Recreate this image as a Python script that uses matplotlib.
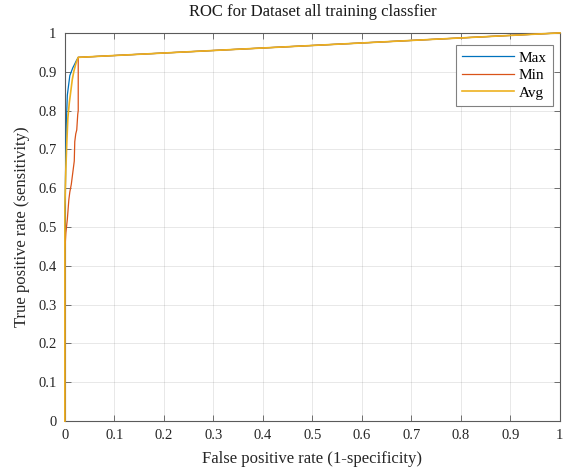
import matplotlib
matplotlib.use("Agg")
import matplotlib.pyplot as plt
import numpy as np

plt.rcParams['font.family'] = ['Liberation Serif', 'DejaVu Serif']

# ROC curves (FPR, TPR)
max_fpr = [0.0, 0.0, 0.0, 0.001, 0.002, 0.003, 0.005, 0.008, 0.010, 0.013, 0.016, 0.020, 0.023, 0.027, 1.0]
max_tpr = [0.0, 0.45, 0.52, 0.60, 0.70, 0.77, 0.84, 0.87, 0.89, 0.90, 0.91, 0.92, 0.928, 0.937, 1.0]

min_fpr = [0.0, 0.0, 0.002, 0.005, 0.008, 0.010, 0.013, 0.016, 0.019, 0.020, 0.022, 0.024, 0.026, 0.027, 0.027, 1.0]
min_tpr = [0.0, 0.44, 0.485, 0.52, 0.57, 0.59, 0.61, 0.64, 0.67, 0.72, 0.74, 0.75, 0.79, 0.80, 0.937, 1.0]

avg_fpr = [0.0, 0.0, 0.0, 0.002, 0.004, 0.006, 0.009, 0.012, 0.015, 0.018, 0.022, 0.025, 0.027, 1.0]
avg_tpr = [0.0, 0.47, 0.55, 0.65, 0.72, 0.78, 0.82, 0.85, 0.88, 0.90, 0.92, 0.93, 0.937, 1.0]

series_names = ['Max', 'Min', 'Avg']
series_colors = ['#0072BD', '#D95319', '#EDB120']
series_widths = [0.9, 0.9, 1.2]
x_ticks = [0, 0.1, 0.2, 0.3, 0.4, 0.5, 0.6, 0.7, 0.8, 0.9, 1]
x_tick_labels = ['0', '0.1', '0.2', '0.3', '0.4', '0.5', '0.6', '0.7', '0.8', '0.9', '1']
y_ticks = x_ticks
y_tick_labels = x_tick_labels

fig = plt.figure(figsize=(5.69, 4.70), dpi=100)
ax = fig.add_axes([0.114, 0.104, 0.870, 0.826])

for fpr, tpr, name, col, w in zip([max_fpr, min_fpr, avg_fpr], [max_tpr, min_tpr, avg_tpr],
                                  series_names, series_colors, series_widths):
    ax.plot(fpr, tpr, color=col, lw=w, label=name, zorder=3, clip_on=False)

ax.set_xlim(0, 1)
ax.set_ylim(0, 1)
ax.set_xticks(x_ticks)
ax.set_xticklabels(x_tick_labels)
ax.set_yticks(y_ticks)
ax.set_yticklabels(y_tick_labels)
ax.grid(True, color='#262626', alpha=0.12, lw=0.6)
ax.set_axisbelow(True)
axis_col = '#5a5a5a'
for s in ax.spines.values():
    s.set_color(axis_col)
    s.set_linewidth(0.8)
ax.tick_params(direction='in', length=4, width=0.6, colors=axis_col, labelcolor='#262626',
               labelsize=10.5, top=True, right=True)
ax.tick_params(axis='x', pad=6)
ax.tick_params(axis='y', pad=6)

ax.set_title('ROC for Dataset all training classfier', fontsize=12, color='#1a1a1a', pad=12)
ax.set_xlabel('False positive rate (1-specificity)', fontsize=12, color='#262626', labelpad=6)
ax.set_ylabel('True positive rate (sensitivity)', fontsize=12, color='#262626', labelpad=6)

leg = ax.legend(loc='upper right', bbox_to_anchor=(0.986, 0.969), borderaxespad=0, fontsize=11,
                frameon=True, fancybox=False, framealpha=1, edgecolor='#808080',
                handlelength=3.4, borderpad=0.4, labelspacing=0.25, handletextpad=0.3)
leg.get_frame().set_linewidth(0.8)
leg.set_zorder(5)

fig.savefig('out.png', dpi=100)
